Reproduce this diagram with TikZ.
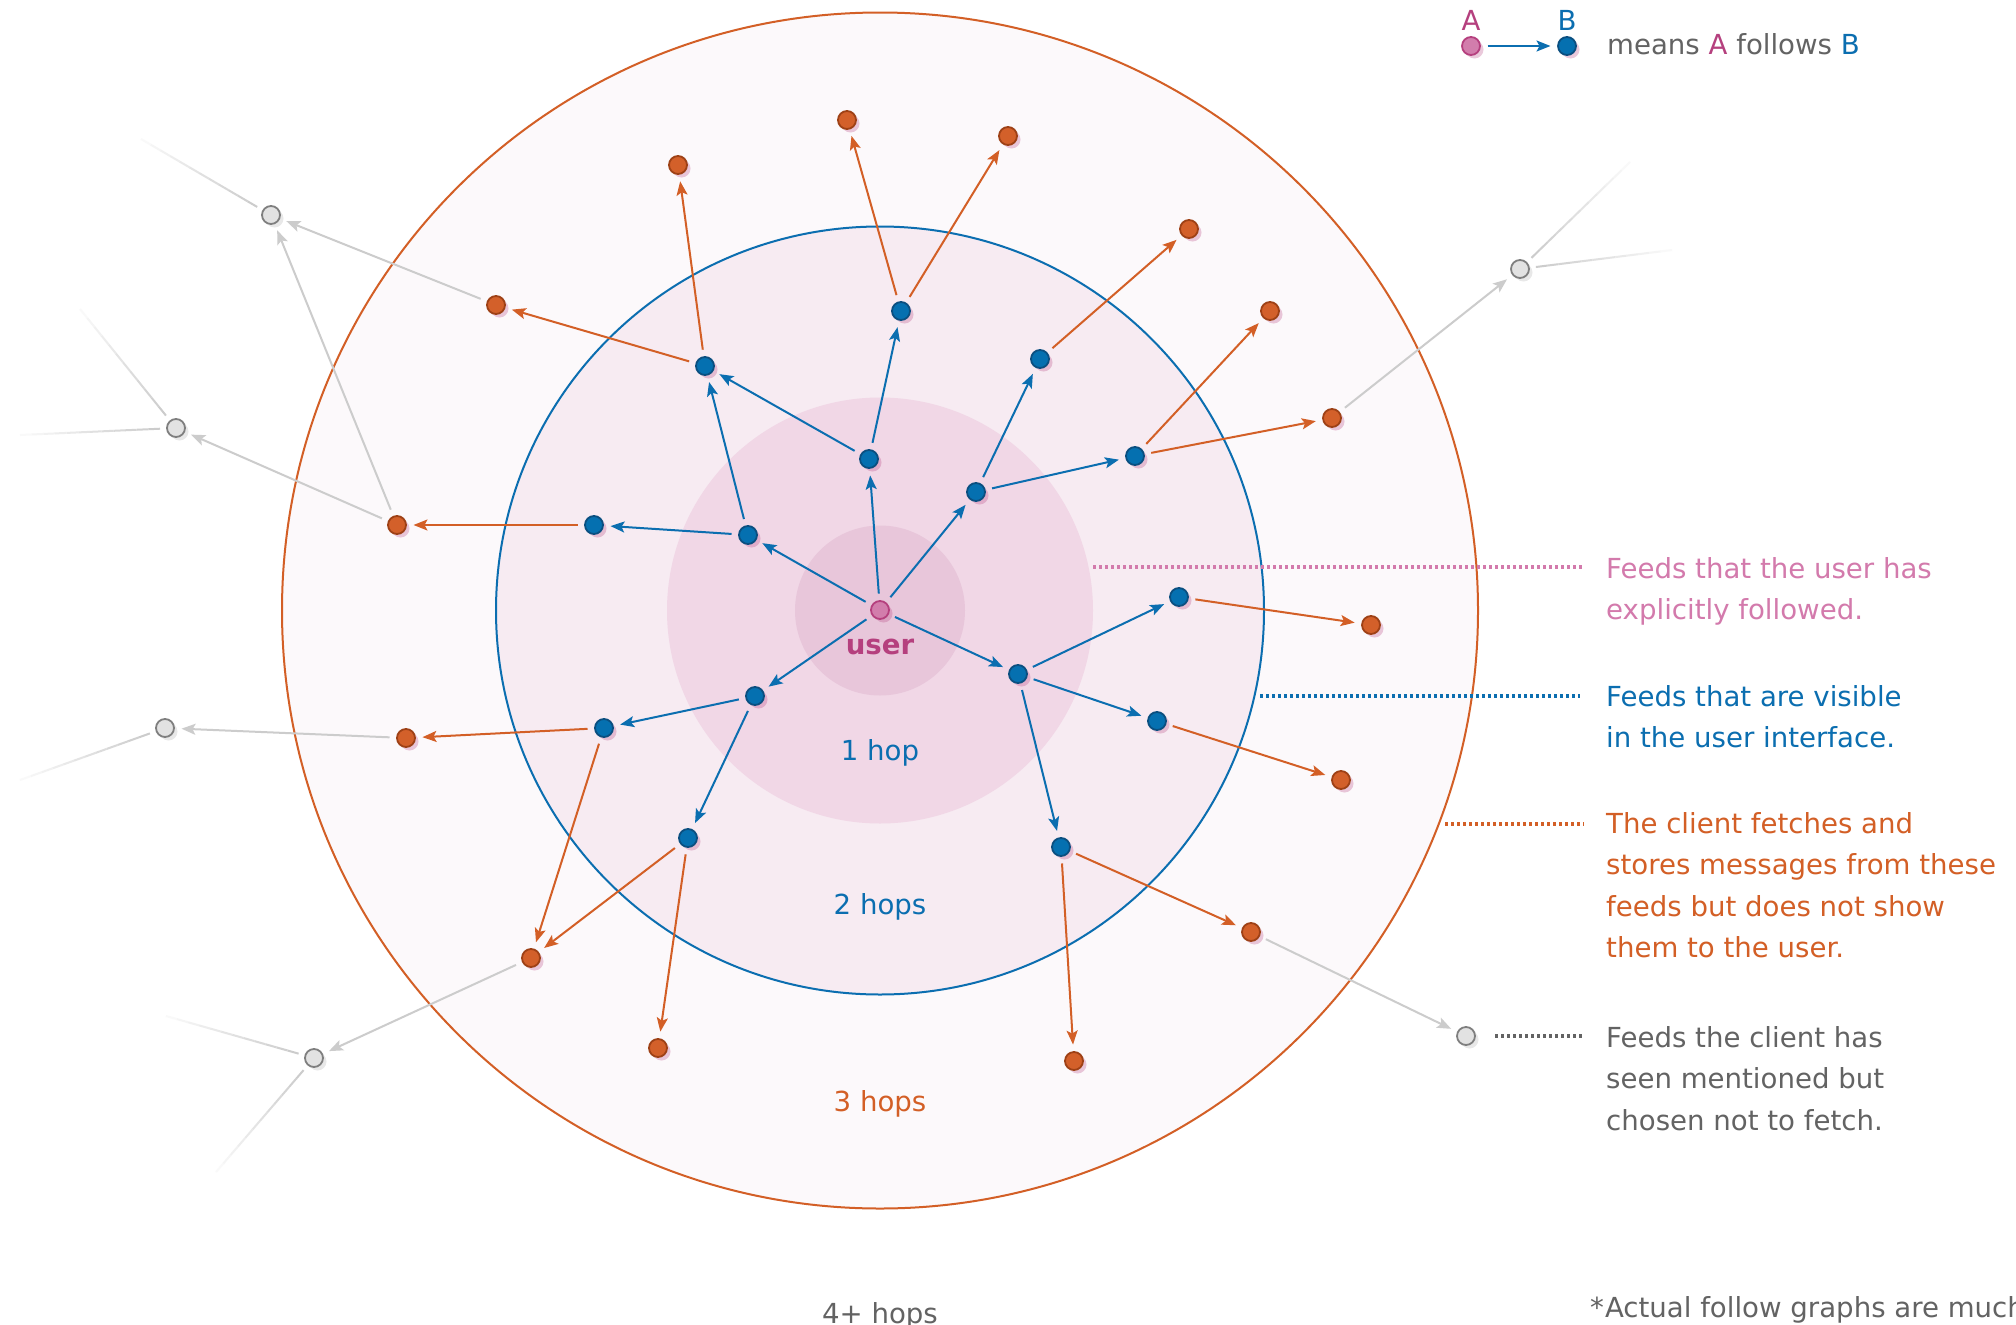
\documentclass[tikz,border=0pt]{standalone}
\usepackage{fontspec}
\setmainfont{DejaVu Sans}
\usetikzlibrary{arrows.meta,shadows,calc}

\definecolor{userfill}{HTML}{D27DAC}
\definecolor{userline}{HTML}{B5407E}
\definecolor{pinktext}{HTML}{D37AAC}
\definecolor{bluefill}{HTML}{0570B0}
\definecolor{blueline}{HTML}{0B4F80}
\definecolor{hopblue}{HTML}{0B6EB0}
\definecolor{hoporange}{HTML}{D35F26}
\definecolor{orangefill}{HTML}{D3602A}
\definecolor{orangeline}{HTML}{9E4116}
\definecolor{nodegray}{HTML}{E2E2E2}
\definecolor{grayline}{HTML}{7F7F7F}
\definecolor{arrowgray}{HTML}{CCCCCC}
\definecolor{textgray}{HTML}{636363}
\definecolor{ringfour}{HTML}{FCF9FB}
\definecolor{ringtwo}{HTML}{F7EBF2}
\definecolor{ringone}{HTML}{F1D7E6}
\definecolor{ringzero}{HTML}{E8C6DA}

\tikzset{
	feed/.style={circle,minimum size=18pt,inner sep=0pt,line width=1.8pt,outer sep=7.5pt},
	pinkshadow/.style={drop shadow={shadow xshift=3.5pt,shadow yshift=-3.5pt,fill=userline,opacity=0.28}},
	me/.style={feed,pinkshadow,fill=userfill,draw=userline},
	followed/.style={feed,pinkshadow,fill=bluefill,draw=blueline},
	stored/.style={feed,pinkshadow,fill=orangefill,draw=orangeline},
	mentioned/.style={feed,fill=nodegray,draw=grayline,
		drop shadow={shadow xshift=3.5pt,shadow yshift=-3.5pt,fill=black,opacity=0.09}},
	follow/.style={-{Stealth[length=14pt,width=11pt,inset=3pt]},line width=2pt,draw=hopblue},
	fetch/.style={follow,draw=hoporange},
	seen/.style={follow,draw=arrowgray},
	leader/.style={line width=3.5pt,dash pattern=on 3pt off 3pt},
	txt/.style={font=\fontsize{27.6}{41.5}\selectfont,align=left,inner sep=0pt},
}

\newcommand\fadeline[2]{%
	\coordinate (fadeend) at (#2);
	\coordinate (fadestart) at ($(#1)!16pt!(fadeend)$);
	\foreach \i in {0,...,11}{%
		\pgfmathtruncatemacro\fadepct{100-8*\i}
		\draw[line width=2pt,draw=arrowgray!\fadepct!white] ($(fadestart)!\i/12!(fadeend)$) -- ($(fadestart)!{(\i+1)/12}!(fadeend)$);
	}}

\begin{document}
\begin{tikzpicture}[x=1pt,y=-1pt]
	\useasboundingbox[fill=white] (0,0) rectangle (2016,1325);
	\draw[fill=ringfour,draw=hoporange,line width=2pt] (880,610.5) circle(598);
	\draw[fill=ringtwo,draw=hopblue,line width=2pt] (880,610.5) circle(384);
	\fill[ringone] (880,610.5) circle(213);
	\fill[ringzero] (880,610.5) circle(85);

	\node[me] (u) at (880,610) {};
	\foreach \n/\x/\y in {f1/748/535,f2/869/459,f3/976/492,f4/1018/674,f5/755/696,
		v1/705/366,v2/594/525,v3/901/311,v4/1040/359,v5/1135/456,
		v6/1179/597,v7/1157/721,v8/1061/847,v9/604/728,v10/688/838}
		\node[followed] (\n) at (\x,\y) {};
	\foreach \n/\x/\y in {s1/678/165,s2/496/305,s3/847/120,s4/1008/136,s5/1189/229,
		s6/1270/311,s7/1332/418,s8/397/525,s9/1371/625,s10/1341/780,
		s11/1251/932,s12/1074/1061,s13/406/738,s14/531/958,s15/658/1048}
		\node[stored] (\n) at (\x,\y) {};
	\foreach \n/\x/\y in {m1/271/215,m2/176/428,m3/165/728,m4/314/1058,m5/1520/269,m6/1466/1036}
		\node[mentioned] (\n) at (\x,\y) {};

	\foreach \a/\b in {u/f1,u/f2,u/f3,u/f4,u/f5,f1/v1,f1/v2,f2/v1,f2/v3,f3/v4,f3/v5,
		f4/v6,f4/v7,f4/v8,f5/v9,f5/v10}
		\draw[follow] (\a) -- (\b);
	\foreach \a/\b in {v1/s1,v1/s2,v3/s3,v3/s4,v4/s5,v5/s6,v5/s7,v2/s8,v6/s9,v7/s10,
		v8/s11,v8/s12,v9/s13,v9/s14,v10/s14,v10/s15}
		\draw[fetch] (\a) -- (\b);
	\foreach \a/\b in {s2/m1,s8/m1,s8/m2,s13/m3,s14/m4,s7/m5,s11/m6}
		\draw[seen] (\a) -- (\b);

	\fadeline{m1}{141,139}
	\fadeline{m2}{80,309}
	\fadeline{m2}{20,435}
	\fadeline{m3}{20,780}
	\fadeline{m4}{166,1016}
	\fadeline{m4}{216,1172}
	\fadeline{m5}{1630,162}
	\fadeline{m5}{1672,250}

	\node[txt,text=userline,font=\fontsize{27.6}{41.5}\selectfont\bfseries,anchor=base] (lu) at (880,654) {user};
	\node[txt,text=hopblue,anchor=base] (l1) at (880,760) {1 hop};
	\node[txt,text=hopblue,anchor=base] (l2) at (880,914) {2 hops};
	\node[txt,text=hoporange,anchor=base] (l3) at (880,1111) {3 hops};
	\node[txt,text=textgray,anchor=base] (l4) at (880,1323) {4+ hops};

	\node[txt,text=pinktext,anchor=base west] (t1) at (1606,619.5) {Feeds that the user has\\explicitly followed.};
	\node[txt,text=hopblue,anchor=base west] (t2) at (1606,747.5) {Feeds that are visible\\in the user interface.};
	\node[txt,text=hoporange,anchor=base west] (t3) at (1606,957.5) {The client fetches and\\stores messages from these\\feeds but does not show\\them to the user.};
	\node[txt,text=textgray,anchor=base west] (t4) at (1606,1130) {Feeds the client has\\seen mentioned but\\chosen not to fetch.};
	\coordinate (d1a) at (1093,567);
	\coordinate (d1b) at (1584,567);
	\coordinate (d2a) at (1260,696);
	\coordinate (d2b) at (1580,696);
	\coordinate (d3a) at (1445,824);
	\coordinate (d3b) at (1584,824);
	\coordinate (d4a) at (1495,1036);
	\coordinate (d4b) at (1584,1036);
	\draw[leader,draw=pinktext] (d1a) -- (d1b);
	\draw[leader,draw=hopblue] (d2a) -- (d2b);
	\draw[leader,draw=hoporange] (d3a) -- (d3b);
	\draw[leader,draw=textgray] (d4a) -- (d4b);

	\node[me] (la) at (1471,46) {};
	\node[followed] (lb) at (1567,46) {};
	\draw[follow] (la) -- (lb);
	\node[txt,text=userline,anchor=base] (lat) at (1471,30) {A};
	\node[txt,text=hopblue,anchor=base] (lbt) at (1567,30) {B};
	\node[txt,text=textgray,anchor=base west] (lmeans) at (1607,54) {means \textcolor{userline}{A} follows \textcolor{hopblue}{B}};

	\node[txt,text=textgray,anchor=base west] (foot) at (1590,1317) {*\kern1pt Actual follow graphs are much};
\end{tikzpicture}
\end{document}
